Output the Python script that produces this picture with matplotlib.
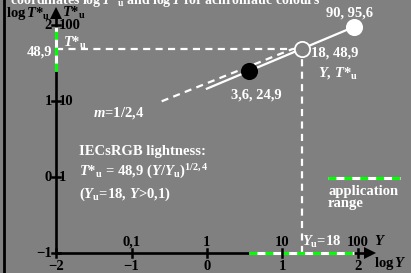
import numpy as np
import matplotlib.pyplot as plt

plt.rcParams["font.family"] = ["Liberation Serif", "DejaVu Serif"]
plt.rcParams["font.weight"] = "bold"
plt.rcParams["mathtext.fontset"] = "custom"
plt.rcParams["mathtext.rm"] = "Liberation Serif:bold"
plt.rcParams["mathtext.it"] = "Liberation Serif:bold:italic"
plt.rcParams["mathtext.bf"] = "Liberation Serif:bold"

# values
Y_points = [3.6, 18, 90]
T_points = [24.9, 48.9, 95.6]
point_faces = ["black", "#808080", "white"]
point_edges = ["black", "white", "white"]
point_labels = ["3,6, 24,9", "18, 48,9", "90, 95,6"]
Y_ref = 18
T_ref = 48.9
exponent = 1 / 2.4
Y_curve = [1, 90]
dash_logY = [-0.6, 1.14]
dash_logT = [1.0, 1.69]
app_Y = [3.6, 90]
app_T = [24.9, 95.6]
x_ticks = [-2, -1, 0, 1, 2]
x_top_ticks = [-1, 0, 1, 2]
x_top_labels = ["0,1", "1", "10", "100"]
y_ticks = [-1, 0, 1, 2]
y_right_ticks = [0, 1, 2]
y_right_labels = ["1", "10", "100"]

BG = "#808080"
GREEN = "#00ff00"
FS = 10.5
W, H = 411, 273
X0, SX = 206.9, 75.4
Y0, SY = 177.3, 76.0


def P(xp, yp):
    # pixel position -> data position (for text placement)
    return (xp - X0) / SX, (Y0 - yp) / SY


fig = plt.figure(figsize=(W / 100, H / 100), dpi=100, facecolor=BG)
ax = fig.add_axes([0, 0, 1, 1], facecolor=BG)
ax.set_xlim(-X0 / SX, (W - X0) / SX)
ax.set_ylim((Y0 - H) / SY, Y0 / SY)
ax.axis("off")

# left frame line
ax.axvline(P(4, 0)[0], color="black", lw=2)

logY_pts = np.log10(Y_points)
logT_pts = np.log10(T_points)
lx_ref, lt_ref = np.log10(Y_ref), np.log10(T_ref)

dash = (0, (3.2, 2.4))
# reference lines
ax.plot([-2, lx_ref], [lt_ref, lt_ref], color="white", lw=1.6, ls=dash)
ax.plot([lx_ref, lx_ref], [-1, lt_ref], color="white", lw=1.6, ls=dash)
ax.plot(dash_logY, dash_logT, color="white", lw=1.6, ls=dash)

# lightness curve
yc = np.array(Y_curve, dtype=float)
tc = T_ref * (yc / Y_ref) ** exponent
ax.plot(np.log10(yc), np.log10(tc), color="white", lw=1.6)

# axes with arrow heads
x_tip, y_tip = P(375, 8)
ax.plot([-2, x_tip - 6 / SX], [-1, -1], color="black", lw=1.9, solid_capstyle="butt")
ax.plot([-2, -2], [-1, y_tip - 6 / SY], color="black", lw=1.9, solid_capstyle="butt")
ax.plot(x_tip - 5 / SX, -1, marker=">", ms=8, color="black", mew=0, zorder=6)
ax.plot(-2, y_tip - 5 / SY, marker="^", ms=8, color="black", mew=0, zorder=6)

# application range on the axes
gdash = (0, (2.6, 2.6))
lay = np.log10(app_Y)
lat = np.log10(app_T)
ax.plot(lay, [-1, -1], color="white", lw=2.2, solid_capstyle="butt")
ax.plot(lay, [-1, -1], color=GREEN, lw=2.2, ls=gdash)
ax.plot([-2, -2], lat, color="white", lw=2.2, solid_capstyle="butt")
ax.plot([-2, -2], lat, color=GREEN, lw=2.2, ls=gdash)

# ticks
for t in x_ticks:
    ax.plot([t, t], [-1 - 4 / SY, -1 + 4 / SY], color="black", lw=1.8)
    ax.text(t, P(0, 266)[1], f"{t}".replace("-", "\u2212"), ha="center", va="center",
            fontsize=FS, color="black")
for t, lab in zip(x_top_ticks, x_top_labels):
    ax.text(t, P(0, 242)[1], lab, ha="center", va="center", fontsize=FS, color="black")
for t in y_ticks:
    ax.plot([-2 - 4 / SX, -2 + 4 / SX], [t, t], color="black", lw=1.8)
    ax.text(P(52, 0)[0], t, f"{t}".replace("-", "\u2212"), ha="right", va="center",
            fontsize=FS, color="black")
for t, lab in zip(y_right_ticks, y_right_labels):
    ax.text(P(59, 0)[0], t, lab, ha="left", va="center", fontsize=FS, color="black")

# points
for x, y, fc, ec in zip(logY_pts, logT_pts, point_faces, point_edges):
    ax.plot(x, y, "o", ms=11, mfc=fc, mec=ec, mew=1.3, zorder=5)

ax.text(*P(256, 95), point_labels[0], ha="center", va="center", fontsize=FS, color="white")
ax.text(*P(311, 53), point_labels[1], ha="left", va="center", fontsize=FS, color="white")
ax.text(*P(349, 13), point_labels[2], ha="center", va="center", fontsize=FS, color="white")
ax.text(*P(318, 73), r"$Y$, $T$*$_\mathrm{u}$", ha="left", va="center", fontsize=FS, color="white")

# axis labels
ax.text(*P(50, 13), r"log$\,T$*$_\mathrm{u}$", ha="right", va="center", fontsize=FS, color="black")
ax.text(*P(62, 13), r"$T$*$_\mathrm{u}$", ha="left", va="center", fontsize=FS, color="black")
ax.text(*P(52, 52), "48,9", ha="right", va="center", fontsize=FS, color="white")
ax.text(*P(63, 43), r"$T$*$_\mathrm{u}$", ha="left", va="center", fontsize=FS, color="white")
ax.text(*P(374, 241), r"$Y$", ha="left", va="center", fontsize=FS, color="black")
ax.text(*P(374, 263), r"log$\,Y$", ha="left", va="center", fontsize=FS, color="black")
ax.text(*P(302, 242), r"$Y_\mathrm{u}$=18", ha="left", va="center", fontsize=FS, color="white")

# annotations
ax.text(*P(93, 113), r"$m$=1/2,4", ha="left", va="center", fontsize=FS, color="white")
ax.text(*P(79, 151), "IECsRGB lightness:", ha="left", va="center", fontsize=FS, color="white")
ax.text(*P(79, 172), r"$T$*$_\mathrm{u}$ = 48,9 ($Y$/$Y_\mathrm{u}$)$^{1/2,4}$",
        ha="left", va="center", fontsize=FS, color="white")
ax.text(*P(79, 194), r"($Y_\mathrm{u}$=18, $Y$>0,1)", ha="left", va="center",
        fontsize=FS, color="white")

# application range legend
lx = [P(328, 0)[0], P(400, 0)[0]]
ly = [P(0, 178)[1]] * 2
ax.plot(lx, ly, color="white", lw=2.2, solid_capstyle="butt")
ax.plot(lx, ly, color=GREEN, lw=2.2, ls=gdash)
ax.text(*P(328, 191), "application", ha="left", va="center", fontsize=FS, color="white")
ax.text(*P(328, 203), "range", ha="left", va="center", fontsize=FS, color="white")

# title, cut off at the top like the reference
ax.text(*P(165, 4), r"coordinates log$\,T$*$_\mathrm{u}$ and log$\,Y$ for achromatic colours",
        ha="center", va="baseline", fontsize=10, color="white")

fig.savefig("out.png", dpi=100, facecolor=BG)
